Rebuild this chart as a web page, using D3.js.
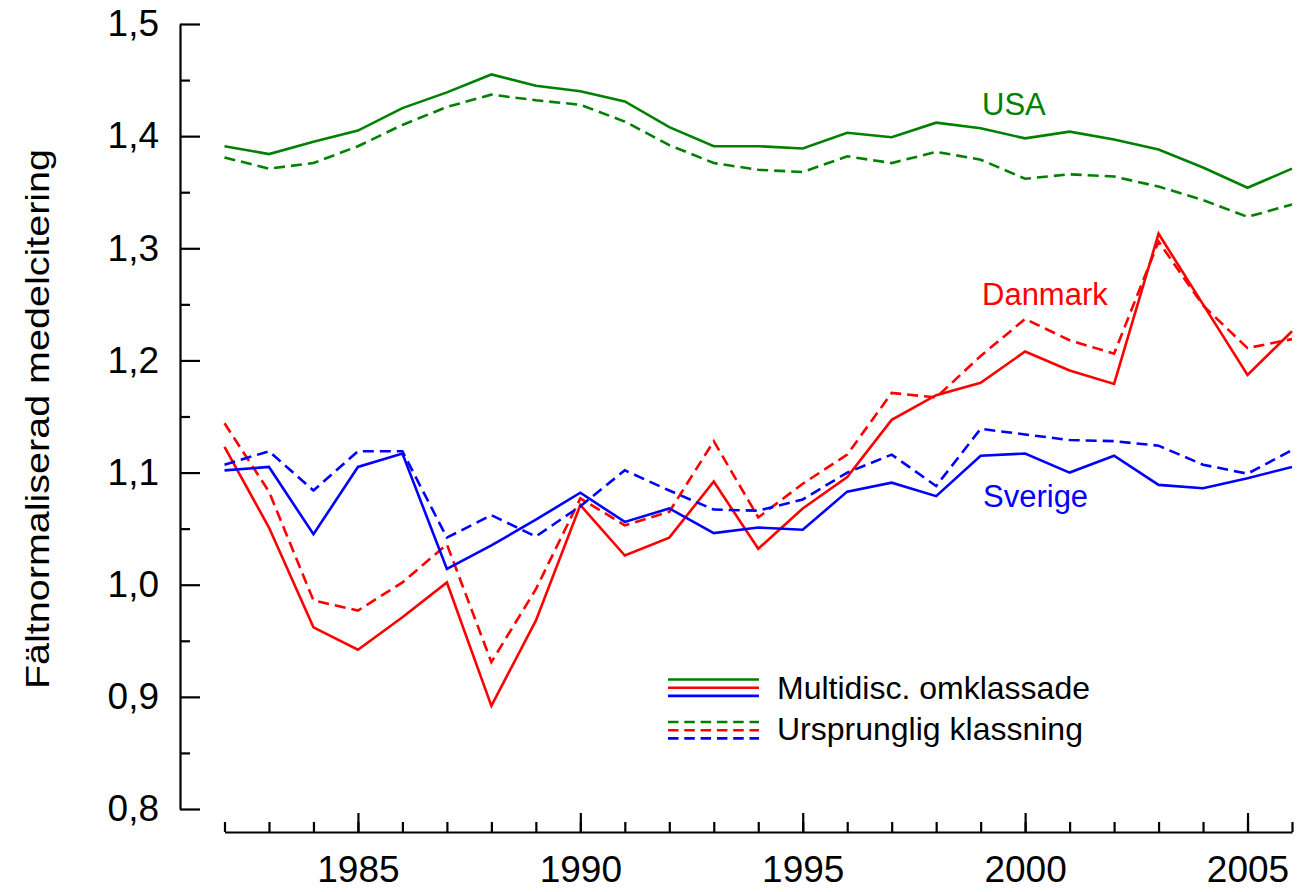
<!DOCTYPE html>
<html>
<head>
<meta charset="utf-8">
<script src="https://cdn.jsdelivr.net/npm/d3@7"></script>
<style>
  html, body { margin: 0; padding: 0; background: #fff; }
  svg { display: block; font-family: "Liberation Sans", Arial, Helvetica, sans-serif; }
</style>
</head>
<body>
<svg id="chart" width="1298" height="892"></svg>
<script>
const years = d3.range(1982, 2007);

const usaMulti = [1.391,1.384,1.395,1.405,1.425,1.439,1.455,1.445,1.440,1.431,1.408,1.391,1.391,1.389,1.403,1.399,1.412,1.407,1.398,1.404,1.397,1.388,1.372,1.354,1.371];
const usaOrig  = [1.381,1.371,1.376,1.391,1.410,1.426,1.437,1.432,1.428,1.413,1.392,1.376,1.370,1.368,1.382,1.376,1.386,1.379,1.362,1.366,1.364,1.355,1.343,1.328,1.339];
const dkMulti  = [1.123,1.051,0.962,0.942,0.971,1.002,0.892,0.968,1.071,1.026,1.042,1.092,1.032,1.068,1.096,1.147,1.169,1.180,1.208,1.191,1.179,1.313,1.250,1.187,1.226];
const dkOrig   = [1.144,1.083,0.986,0.977,1.002,1.036,0.931,0.996,1.077,1.053,1.065,1.128,1.060,1.090,1.116,1.171,1.167,1.204,1.237,1.218,1.206,1.306,1.249,1.211,1.219];
const seMulti  = [1.102,1.105,1.045,1.105,1.117,1.014,1.035,1.058,1.082,1.056,1.068,1.046,1.051,1.049,1.083,1.091,1.079,1.115,1.117,1.100,1.115,1.089,1.086,1.095,1.105];
const seOrig   = [1.107,1.119,1.084,1.119,1.119,1.042,1.062,1.043,1.070,1.102,1.084,1.067,1.066,1.076,1.100,1.116,1.088,1.139,1.134,1.129,1.128,1.124,1.107,1.099,1.120];

const yMajorTicks = [0.8, 0.9, 1.0, 1.1, 1.2, 1.3, 1.4, 1.5];
const yMinorTicks = [0.85, 0.95, 1.05, 1.15, 1.25, 1.35, 1.45];
const xMajorTicks = [1985, 1990, 1995, 2000, 2005];
const countryNames = ["USA", "Danmark", "Sverige"];
const colors = ["#008000", "#ff0000", "#0000ff"];
const legendLabels = ["Multidisc. omklassade", "Ursprunglig klassning"];
const yTitle = "Fältnormaliserad medelcitering";

const series = [
  { name: countryNames[0], color: colors[0], multi: usaMulti, orig: usaOrig },
  { name: countryNames[1], color: colors[1], multi: dkMulti, orig: dkOrig },
  { name: countryNames[2], color: colors[2], multi: seMulti, orig: seOrig }
];

const svg = d3.select("#chart");
const x = d3.scaleLinear().domain([1982, 2006]).range([224.5, 1292]);
const y = d3.scaleLinear().domain([0.8, 1.5]).range([809, 24]);

const fmt = d => d3.format(".1f")(d).replace(".", ",");
const dash = "11,6";
const lw = 2.6;

// Y axis
const yMinor = svg.append("g").attr("transform", "translate(180,0)")
  .call(d3.axisLeft(y).tickValues(yMinorTicks).tickSizeInner(-10).tickSizeOuter(0).tickFormat(""));
yMinor.select(".domain").remove();
const yAx = svg.append("g").attr("transform", "translate(180,0)")
  .call(d3.axisLeft(y).tickValues(yMajorTicks).tickSizeInner(-20).tickSizeOuter(0).tickPadding(21).tickFormat(fmt));
yAx.selectAll("text").attr("font-size", 37).attr("fill", "#000").attr("font-family", "Liberation Sans, Arial, sans-serif");

// X axis
const xMinor = svg.append("g").attr("transform", "translate(0,832)")
  .call(d3.axisBottom(x).tickValues(years).tickSizeInner(-10).tickSizeOuter(0).tickFormat(""));
const xAx = svg.append("g").attr("transform", "translate(0,832)")
  .call(d3.axisBottom(x).tickValues(xMajorTicks).tickSizeInner(-19).tickSizeOuter(0).tickPadding(24).tickFormat(d3.format("d")));
xAx.select(".domain").remove();
svg.selectAll("g").selectAll("path.domain, line").attr("stroke", "#000").attr("stroke-width", 2.2);
xAx.selectAll("text").attr("font-size", 37).attr("fill", "#000").attr("font-family", "Liberation Sans, Arial, sans-serif");

// Y title
svg.append("text")
  .attr("transform", "translate(49,419) rotate(-90)")
  .attr("text-anchor", "middle")
  .attr("font-size", 34)
  .attr("textLength", 540)
  .attr("lengthAdjust", "spacingAndGlyphs")
  .attr("fill", "#000")
  .text(yTitle);

// Lines
const line = vals => d3.line().x((d, i) => x(years[i])).y(d => y(d))(vals);
series.forEach(s => {
  svg.append("path").attr("d", line(s.orig)).attr("fill", "none")
    .attr("stroke", s.color).attr("stroke-width", lw).attr("stroke-dasharray", dash).attr("stroke-linejoin", "miter");
  svg.append("path").attr("d", line(s.multi)).attr("fill", "none")
    .attr("stroke", s.color).attr("stroke-width", lw).attr("stroke-linejoin", "miter");
});

// Country labels
const labelPos = [{ x: 982, y: 115 }, { x: 982, y: 305 }, { x: 983, y: 507 }];
series.forEach((s, i) => {
  svg.append("text").attr("x", labelPos[i].x).attr("y", labelPos[i].y)
    .attr("font-size", 31).attr("fill", s.color).text(s.name);
});

// Legend
const lg = svg.append("g");
series.forEach((s, i) => {
  lg.append("line").attr("x1", 668).attr("x2", 759).attr("y1", 679.5 + i * 8.2).attr("y2", 679.5 + i * 8.2)
    .attr("stroke", s.color).attr("stroke-width", lw);
  lg.append("line").attr("x1", 668).attr("x2", 759).attr("y1", 722 + i * 8.2).attr("y2", 722 + i * 8.2)
    .attr("stroke", s.color).attr("stroke-width", lw).attr("stroke-dasharray", "10.5,5.8");
});
lg.append("text").attr("x", 777).attr("y", 699).attr("font-size", 32).attr("fill", "#000").text(legendLabels[0]);
lg.append("text").attr("x", 777).attr("y", 740).attr("font-size", 32).attr("fill", "#000").text(legendLabels[1]);
</script>
</body>
</html>
